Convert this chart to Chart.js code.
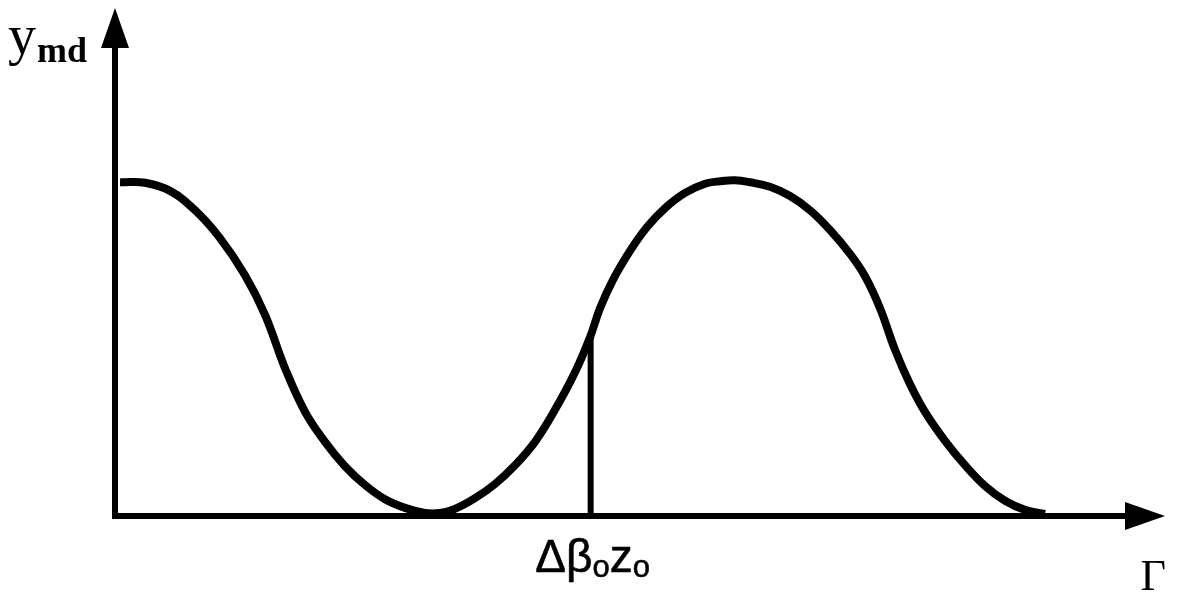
<!DOCTYPE html>
<html>
<head>
<meta charset="utf-8">
<script src="https://cdn.jsdelivr.net/npm/chart.js@4/dist/chart.umd.min.js"></script>
<style>
  html, body { margin: 0; padding: 0; background: #fff; }
  #wrap { width: 1178px; height: 600px; position: relative; }
</style>
</head>
<body>
<div id="wrap"><canvas id="plot"></canvas></div>
<script>
// Gamma positions along the horizontal axis and the y_md response
const gammaValues = [
  0.048, 0.286, 0.524, 0.762, 1.000, 1.238, 1.429, 1.619, 1.810, 2.000, 2.190, 2.381, 2.571, 2.762,
  2.952, 3.095, 3.238, 3.429, 3.619, 3.810, 4.000, 4.190, 4.381, 4.524, 4.619, 4.743, 4.905, 5.067,
  5.238, 5.429, 5.619, 5.762, 5.905, 6.048, 6.238, 6.429, 6.619, 6.810, 7.000, 7.143, 7.286, 7.429,
  7.571, 7.714, 7.905, 8.095, 8.286, 8.476, 8.667, 8.857,
];
const ymdValues = [
  0.657, 0.656, 0.640, 0.602, 0.547, 0.474, 0.396, 0.291, 0.205, 0.146, 0.098, 0.061, 0.033, 0.016,
  0.006, 0.006, 0.014, 0.035, 0.063, 0.100, 0.146, 0.209, 0.283, 0.352, 0.409, 0.465, 0.522, 0.569,
  0.606, 0.636, 0.654, 0.659, 0.661, 0.657, 0.648, 0.630, 0.602, 0.563, 0.516, 0.472, 0.409, 0.327,
  0.260, 0.205, 0.148, 0.100, 0.059, 0.030, 0.012, 0.004,
];

// Marker at Δβ0z0
const markerGamma = [4.53, 4.53];
const markerYmd = [0, 0.352];

const axisMax = { x: 10, y: 1 };

function toPoints(xs, ys) {
  return xs.map((x, i) => ({ x, y: ys[i] }));
}

// axes with arrowheads plus the labels, all placed from the scales
const axesPlugin = {
  id: 'arrowAxes',
  afterDatasetsDraw(chart) {
    const { ctx, scales } = chart;
    const x0 = scales.x.getPixelForValue(0);
    const y0 = scales.y.getPixelForValue(0);
    const xEnd = scales.x.getPixelForValue(axisMax.x);
    const yEnd = scales.y.getPixelForValue(axisMax.y);
    const head = 40;
    const half = 14;

    ctx.save();
    ctx.strokeStyle = '#000';
    ctx.fillStyle = '#000';
    ctx.lineWidth = 6;
    ctx.lineCap = 'butt';

    ctx.beginPath();
    ctx.moveTo(x0, y0 + 3);
    ctx.lineTo(x0, yEnd + head - 2);
    ctx.moveTo(x0 - 3, y0);
    ctx.lineTo(xEnd - head + 2, y0);
    ctx.stroke();

    ctx.beginPath();
    ctx.moveTo(x0, yEnd);
    ctx.lineTo(x0 + half, yEnd + head);
    ctx.lineTo(x0 - half, yEnd + head);
    ctx.closePath();
    ctx.fill();

    ctx.beginPath();
    ctx.moveTo(xEnd, y0);
    ctx.lineTo(xEnd - head, y0 - half);
    ctx.lineTo(xEnd - head, y0 + half);
    ctx.closePath();
    ctx.fill();

    ctx.textBaseline = 'alphabetic';
    ctx.textAlign = 'left';

    // y_md
    ctx.font = '56px "Liberation Serif"';
    ctx.fillText('y', x0 - 107, yEnd + 46);
    ctx.font = 'bold 36px "Liberation Serif"';
    ctx.fillText('md', x0 - 78, yEnd + 54);

    // Γ
    ctx.font = '44px "Liberation Serif"';
    ctx.textAlign = 'right';
    ctx.fillText('Γ', xEnd + 1, y0 + 74);

    // Δβ0z0 under the marker
    const parts = [
      { t: 'Δβ', font: '46px "Liberation Sans"', dy: 0 },
      { t: 'o', font: '31px "Liberation Sans"', dy: 5 },
      { t: 'z', font: '46px "Liberation Sans"', dy: 0 },
      { t: 'o', font: '31px "Liberation Sans"', dy: 5 },
    ];
    let total = 0;
    parts.forEach((p) => {
      ctx.font = p.font;
      p.w = ctx.measureText(p.t).width;
      total += p.w;
    });
    let cx = scales.x.getPixelForValue(markerGamma[0]) + 2 - total / 2;
    ctx.textAlign = 'left';
    ctx.lineWidth = 0.6;
    parts.forEach((p) => {
      ctx.font = p.font;
      ctx.fillText(p.t, cx, y0 + 56 + p.dy);
      ctx.strokeText(p.t, cx, y0 + 56 + p.dy);
      cx += p.w;
    });
    ctx.restore();
  },
};

new Chart(document.getElementById('plot'), {
  type: 'scatter',
  data: {
    datasets: [
      {
        data: toPoints(gammaValues, ymdValues),
        showLine: true,
        borderColor: '#000',
        borderWidth: 8,
        borderCapStyle: 'butt',
        tension: 0.4,
        pointRadius: 0,
      },
      {
        data: toPoints(markerGamma, markerYmd),
        showLine: true,
        borderColor: '#000',
        borderWidth: 6,
        borderCapStyle: 'butt',
        pointRadius: 0,
      },
    ],
  },
  options: {
    responsive: true,
    maintainAspectRatio: false,
    animation: false,
    layout: { padding: { left: 115, right: 13, top: 8, bottom: 84 } },
    scales: {
      x: { type: 'linear', min: 0, max: axisMax.x, display: false },
      y: { type: 'linear', min: 0, max: axisMax.y, display: false },
    },
    plugins: {
      legend: { display: false },
      tooltip: { enabled: false },
    },
  },
  plugins: [axesPlugin],
});
</script>
</body>
</html>
